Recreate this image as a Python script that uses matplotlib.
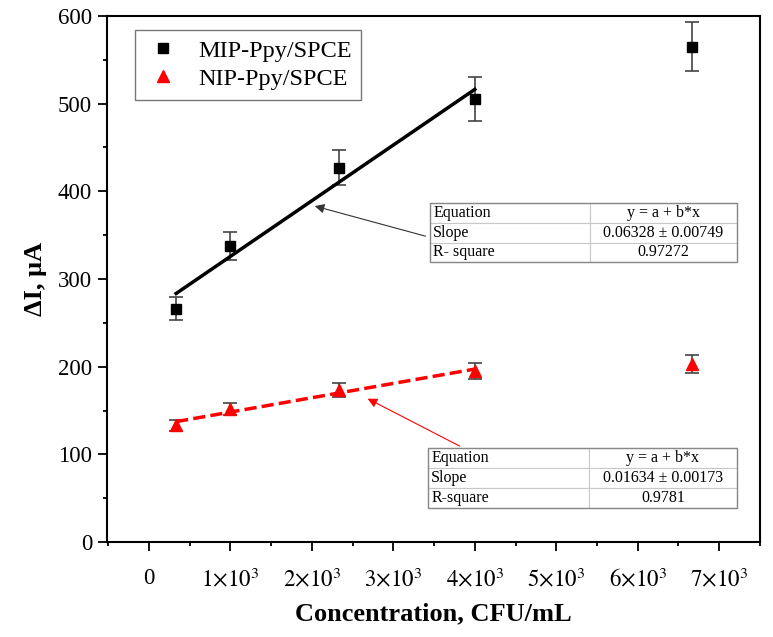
import numpy as np
import matplotlib
matplotlib.use("Agg")
import matplotlib.pyplot as plt
from matplotlib.ticker import MultipleLocator, FixedLocator, FixedFormatter
from matplotlib.lines import Line2D
from matplotlib.patches import Rectangle

plt.rcParams['font.family'] = ['Liberation Serif', 'DejaVu Serif']
plt.rcParams['mathtext.fontset'] = 'stix'

# data
conc = [333, 1000, 2333, 4000, 6667]
mip = [266, 338, 427, 505, 565]
mip_err = [13, 16, 20, 25, 28]
nip = [133, 152, 173, 195, 203]
nip_err = [6, 7, 8, 9, 10]
n_fit = 4  # points used in linear fit

xticks = [0, 1000, 2000, 3000, 4000, 5000, 6000, 7000]
xticklabels = ['0', r'$1{\times}10^3$', r'$2{\times}10^3$', r'$3{\times}10^3$',
               r'$4{\times}10^3$', r'$5{\times}10^3$', r'$6{\times}10^3$', r'$7{\times}10^3$']

table1 = [['Equation', 'y = a + b*x'], ['Slope', '0.06328 ± 0.00749'], ['R- square', '0.97272']]
table2 = [['Equation', 'y = a + b*x'], ['Slope', '0.01634 ± 0.00173'], ['R-square', '0.9781']]

fig = plt.figure(figsize=(7.73, 6.37), dpi=100)
ax = fig.add_axes([0.138, 0.149, 0.983 - 0.138, 0.975 - 0.149])

ax.errorbar(conc, mip, yerr=mip_err, fmt='none', ecolor='#444444',
            elinewidth=1.2, capsize=5, capthick=1.2, zorder=2)
ax.plot(conc, mip, 's', color='black', ms=7, zorder=4)
ax.errorbar(conc, nip, yerr=nip_err, fmt='none', ecolor='#444444',
            elinewidth=1.2, capsize=5, capthick=1.2, zorder=2)
ax.plot(conc, nip, '^', color='red', ms=9, zorder=4)

xf = np.array(conc[:n_fit])
b1, a1 = np.polyfit(xf, mip[:n_fit], 1)
b2, a2 = np.polyfit(xf, nip[:n_fit], 1)
xl = np.array([xf[0], xf[-1]])
ax.plot(xl, a1 + b1 * xl, color='black', lw=2.5, zorder=3)
ax.plot(xl, a2 + b2 * xl, color='red', lw=2.5, ls=(0, (3.5, 1.5)), zorder=3)

ax.set_xlim(-520, 7500)
ax.set_ylim(0, 600)
ax.xaxis.set_major_locator(FixedLocator(xticks))
ax.xaxis.set_major_formatter(FixedFormatter(xticklabels))
ax.xaxis.set_minor_locator(MultipleLocator(500))
ax.yaxis.set_major_locator(MultipleLocator(100))
ax.yaxis.set_minor_locator(MultipleLocator(50))
ax.tick_params(which='major', direction='out', length=6.5, width=1.3, labelsize=16.5, pad=4)
ax.tick_params(axis='x', which='major', pad=12)
ax.tick_params(which='minor', direction='out', length=3.2, width=1.3)
for s in ax.spines.values():
    s.set_linewidth(1.5)

ax.set_xlabel('Concentration, CFU/mL', fontsize=19, fontweight='bold', labelpad=8)
ax.set_ylabel('ΔI, μA', fontsize=19, fontweight='bold', labelpad=8)

handles = [Line2D([], [], ls='none', marker='s', color='black', ms=7),
           Line2D([], [], ls='none', marker='^', color='red', ms=9)]
leg = ax.legend(handles, ['MIP-Ppy/SPCE', 'NIP-Ppy/SPCE'], loc='upper left',
                bbox_to_anchor=(0.043, 0.973), borderaxespad=0, fontsize=17.5,
                frameon=True, fancybox=False, edgecolor='#555555',
                handletextpad=0.7, borderpad=0.4, labelspacing=0.25,
                handlelength=1.5)
leg.get_frame().set_linewidth(1.0)

def draw_table(data, bbox):
    t = ax.table(cellText=data, bbox=bbox, colWidths=[0.52, 0.48], zorder=5)
    t.auto_set_font_size(False)
    t.set_fontsize(11.5)
    for (r, c), cell in t.get_celld().items():
        cell.set_edgecolor('#c8c8c8')
        cell.set_linewidth(0.8)
        cell.get_text().set_ha('left' if c == 0 else 'center')
        if c == 0:
            cell.PAD = 0.02
    ax.add_patch(Rectangle((bbox[0], bbox[1]), bbox[2], bbox[3], transform=ax.transAxes,
                           fill=False, edgecolor='#888888', lw=1.0, zorder=6))
    return t

draw_table(table1, [0.495, 0.532, 0.470, 0.112])
draw_table(table2, [0.492, 0.065, 0.473, 0.114])

ax.annotate('', xy=(2002, 384), xytext=(3428, 348),
            arrowprops=dict(arrowstyle='-|>', color='#333333', lw=0.8,
                            mutation_scale=14))
ax.annotate('', xy=(2654, 165), xytext=(3845, 108),
            arrowprops=dict(arrowstyle='-|>', color='red', lw=0.8,
                            mutation_scale=14))

fig.savefig('out.png', dpi=100)
